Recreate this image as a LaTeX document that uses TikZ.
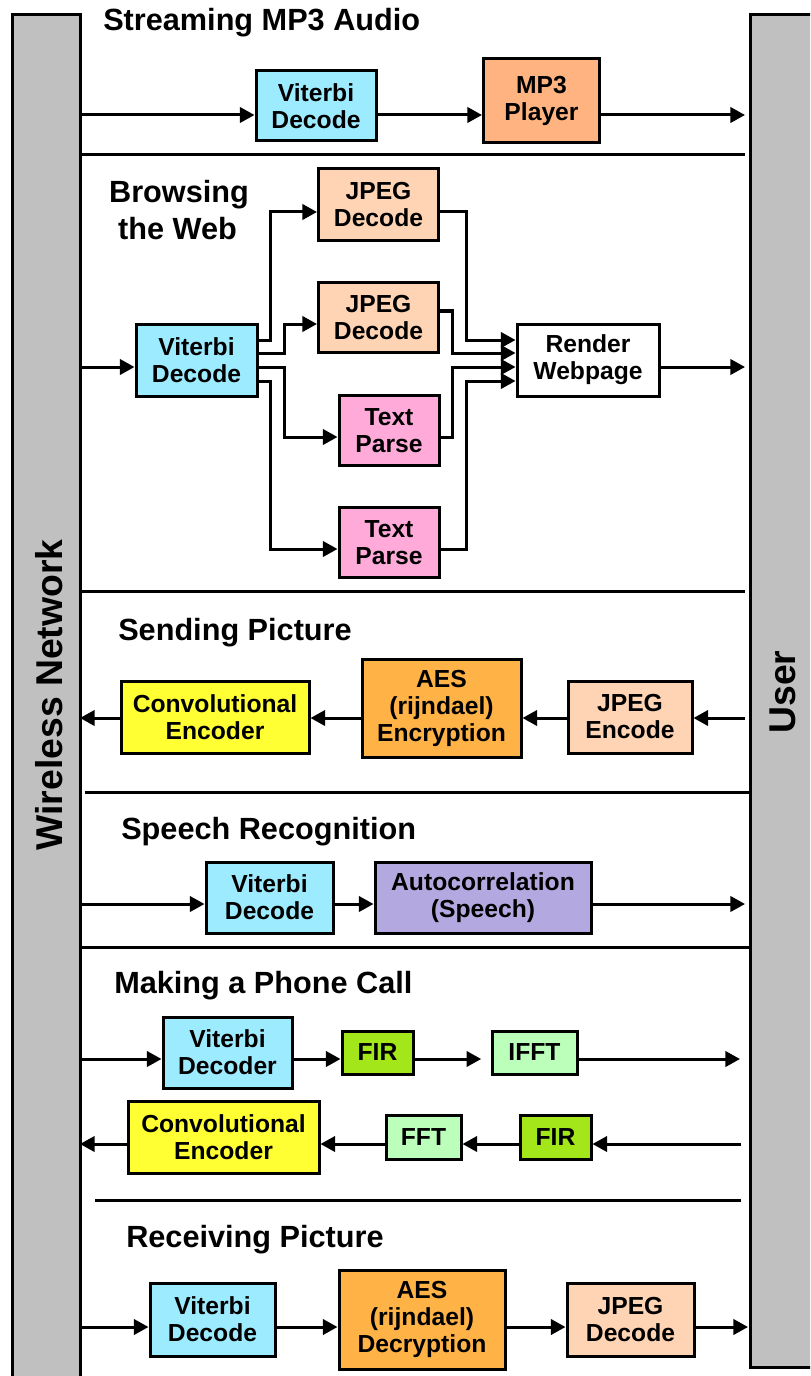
\documentclass[tikz,border=0pt]{standalone}
\usepackage{fontspec}
\setmainfont{Liberation Sans}
\usetikzlibrary{arrows.meta}
\definecolor{barGray}{HTML}{C0C0C0}
\definecolor{viterbiC}{HTML}{9DEBFF}
\definecolor{mpC}{HTML}{FFB380}
\definecolor{jpegC}{HTML}{FFD4B4}
\definecolor{textC}{HTML}{FFAAD9}
\definecolor{aesC}{HTML}{FFB347}
\definecolor{convC}{HTML}{FFFF33}
\definecolor{autoC}{HTML}{B3A9E0}
\definecolor{firC}{HTML}{A3E619}
\definecolor{fftC}{HTML}{BBFFBB}
\tikzset{
  blk/.style={draw, line width=2.25pt, align=center, inner sep=0pt,
    font=\bfseries\fontsize{18.5}{20.25}\selectfont},
  arr/.style={line width=2.25pt, -{Triangle[length=11pt,width=11.5pt]}},
  sepline/.style={line width=2.25pt},
  ttl/.style={anchor=base west, inner sep=0pt, font=\bfseries\fontsize{23}{27}\selectfont},
  side/.style={rotate=90, inner sep=0pt, font=\bfseries\fontsize{28}{32}\selectfont},
  bar/.style={draw, line width=2.25pt, fill=barGray},
}
\begin{document}
\begin{tikzpicture}[x=0.75pt,y=-0.75pt]
\useasboundingbox (0,0) rectangle (810,1376);
\clip (0,0) rectangle (810,1376);

% side bars
\draw[bar] (12,15) rectangle (80,1395);
\draw[bar] (750,15) rectangle (830,1367);
\node[side] (net) at (49,695) {Wireless Network};
\node[side] (usr) at (783,692) {User};

% section separators
\draw[sepline] (80,155) -- (745,155);
\draw[sepline] (80,591) -- (745,591);
\draw[sepline] (85,792) -- (749,792);
\draw[sepline] (80,947) -- (750,947);
\draw[sepline] (95,1200) -- (741,1200);

% ---- Streaming MP3 Audio
\node[ttl] (h1) at (103,31) {Streaming MP3 Audio};
\node[blk, fill=viterbiC, minimum width=90pt, minimum height=52.5pt] (v1) at (316,106) {Viterbi\\Decode};
\node[blk, fill=mpC, minimum width=87pt, minimum height=63pt] (mp3) at (541.5,101) {MP3\\Player};
\coordinate (a1) at (80,115);
\coordinate (b1) at (745,115);
\draw[arr] (a1) -- (a1 -| v1.west);
\draw[arr] (a1 -| v1.east) -- (a1 -| mp3.west);
\draw[arr] (a1 -| mp3.east) -- (b1);

% ---- Browsing the Web
\node[ttl, anchor=base] (h2a) at (179,203) {Browsing};
\node[ttl, anchor=base] (h2b) at (177.5,240) {the Web};
\node[blk, fill=jpegC, minimum width=90pt, minimum height=54pt] (j1) at (378.5,205) {JPEG\\Decode};
\node[blk, fill=jpegC, minimum width=90pt, minimum height=53pt] (j2) at (378.5,317.5) {JPEG\\Decode};
\node[blk, fill=viterbiC, minimum width=90.75pt, minimum height=54pt] (vw) at (196.5,360) {Viterbi\\Decode};
\node[blk, fill=textC, minimum width=75pt, minimum height=53pt] (t1) at (389,430.5) {Text\\Parse};
\node[blk, fill=textC, minimum width=75pt, minimum height=53pt] (t2) at (389,542.5) {Text\\Parse};
\node[blk, fill=white, minimum width=106.5pt, minimum height=54pt] (rw) at (588,360) {Render\\Webpage};
\coordinate (a2) at (80,367);
\coordinate (b2) at (745,367);
\draw[arr] (a2) -- (a2 -| vw.west);
\draw[arr] (a2 -| rw.east) -- (b2);
% fan-out from the decoder
\coordinate (w1a) at (270,340); \coordinate (w1b) at (270,212);
\coordinate (w2a) at (284,353); \coordinate (w2b) at (284,324);
\coordinate (w3a) at (284,367); \coordinate (w3b) at (284,437);
\coordinate (w4a) at (270,381); \coordinate (w4b) at (270,549);
\draw[arr] (vw.east |- w1a) -- (w1a) -- (w1b) -- (j1.west |- w1b);
\draw[arr] (vw.east |- w2a) -- (w2a) -- (w2b) -- (j2.west |- w2b);
\draw[arr] (vw.east |- w3a) -- (w3a) -- (w3b) -- (t1.west |- w3b);
\draw[arr] (vw.east |- w4a) -- (w4a) -- (w4b) -- (t2.west |- w4b);
% fan-in to the renderer
\coordinate (o1a) at (466,212); \coordinate (o1b) at (466,340);
\coordinate (o2a) at (452,311); \coordinate (o2b) at (452,353);
\coordinate (o3a) at (452,437); \coordinate (o3b) at (452,367);
\coordinate (o4a) at (466,549); \coordinate (o4b) at (466,381);
\draw[arr] (j1.east |- o1a) -- (o1a) -- (o1b) -- (rw.west |- o1b);
\draw[arr] (j2.east |- o2a) -- (o2a) -- (o2b) -- (rw.west |- o2b);
\draw[arr] (t1.east |- o3a) -- (o3a) -- (o3b) -- (rw.west |- o3b);
\draw[arr] (t2.east |- o4a) -- (o4a) -- (o4b) -- (rw.west |- o4b);

% ---- Sending Picture
\node[ttl] (h3) at (118,640) {Sending Picture};
\node[blk, fill=convC, minimum width=141pt, minimum height=54pt] (ce1) at (215,717) {Convolutional\\Encoder};
\node[blk, fill=aesC, minimum width=119.25pt, minimum height=73.5pt] (aes1) at (441.5,708) {AES\\(rijndael)\\Encryption};
\node[blk, fill=jpegC, minimum width=93pt, minimum height=54pt] (je) at (630,717) {JPEG\\Encode};
\coordinate (a3) at (80,718);
\coordinate (b3) at (745,718);
\draw[arr] (b3) -- (b3 -| je.east);
\draw[arr] (a3 -| je.west) -- (a3 -| aes1.east);
\draw[arr] (a3 -| aes1.west) -- (a3 -| ce1.east);
\draw[arr] (a3 -| ce1.west) -- (a3);

% ---- Speech Recognition
\node[ttl] (h4) at (121,839) {Speech Recognition};
\node[blk, fill=viterbiC, minimum width=95.25pt, minimum height=53.25pt] (vs) at (269.5,897.5) {Viterbi\\Decode};
\node[blk, fill=autoC, minimum width=162pt, minimum height=53.25pt] (ac) at (483,897.5) {Autocorrelation\\(Speech)};
\coordinate (a4) at (80,904);
\coordinate (b4) at (745,904);
\draw[arr] (a4) -- (a4 -| vs.west);
\draw[arr] (a4 -| vs.east) -- (a4 -| ac.west);
\draw[arr] (a4 -| ac.east) -- (b4);

% ---- Making a Phone Call
\node[ttl] (h5) at (114,993) {Making a Phone Call};
\node[blk, fill=viterbiC, minimum width=96.75pt, minimum height=53.25pt] (vp) at (227.5,1052.5) {Viterbi\\Decoder};
\node[blk, fill=firC, minimum width=53.25pt, minimum height=32.25pt] (fir1) at (377.5,1052.5) {FIR};
\node[blk, fill=fftC, minimum width=63.75pt, minimum height=32.25pt] (ifft) at (534.5,1052.5) {IFFT};
\coordinate (a5) at (80,1059);
\coordinate (b5) at (740,1059);
\draw[arr] (a5) -- (a5 -| vp.west);
\draw[arr] (a5 -| vp.east) -- (a5 -| fir1.west);
\draw[arr, shorten >=7pt] (a5 -| fir1.east) -- (a5 -| ifft.west);
\draw[arr] (a5 -| ifft.east) -- (b5);
\node[blk, fill=convC, minimum width=143.25pt, minimum height=54pt] (ce2) at (223.5,1137) {Convolutional\\Encoder};
\node[blk, fill=fftC, minimum width=56.25pt, minimum height=33pt] (fft) at (423.5,1137) {FFT};
\node[blk, fill=firC, minimum width=53.25pt, minimum height=33pt] (fir2) at (555.5,1137) {FIR};
\coordinate (a6) at (80,1144);
\coordinate (b6) at (741,1144);
\draw[arr] (b6) -- (b6 -| fir2.east);
\draw[arr] (a6 -| fir2.west) -- (a6 -| fft.east);
\draw[arr] (a6 -| fft.west) -- (a6 -| ce2.east);
\draw[arr] (a6 -| ce2.west) -- (a6);

% ---- Receiving Picture
\node[ttl] (h6) at (126,1247) {Receiving Picture};
\node[blk, fill=viterbiC, minimum width=93.75pt, minimum height=54.75pt] (vr) at (212.5,1319.5) {Viterbi\\Decode};
\node[blk, fill=aesC, minimum width=124.5pt, minimum height=74.25pt] (aes2) at (422,1319.5) {AES\\(rijndael)\\Decryption};
\node[blk, fill=jpegC, minimum width=95.25pt, minimum height=54.75pt] (jd) at (630.5,1319.5) {JPEG\\Decode};
\coordinate (a7) at (80,1327);
\coordinate (b7) at (748,1327);
\draw[arr] (a7) -- (a7 -| vr.west);
\draw[arr] (a7 -| vr.east) -- (a7 -| aes2.west);
\draw[arr] (a7 -| aes2.east) -- (a7 -| jd.west);
\draw[arr] (a7 -| jd.east) -- (b7);
\end{tikzpicture}
\end{document}
